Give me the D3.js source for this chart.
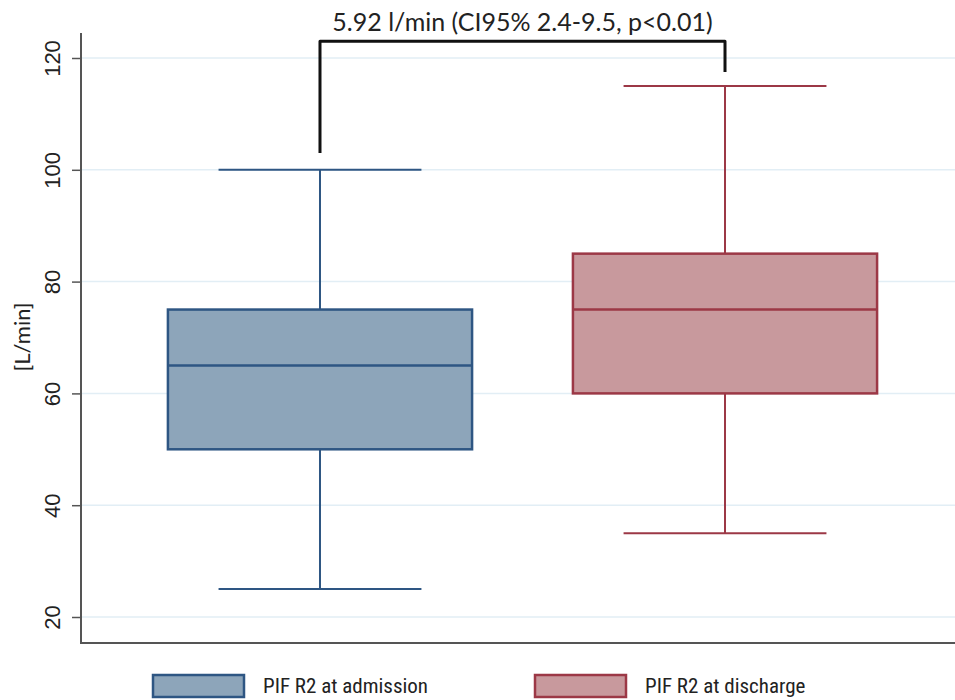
<!DOCTYPE html>
<html>
<head>
  <script src="https://d3js.org/d3.v7.min.js"></script>
  <style>
    body { margin: 0; background: #fff; }
  </style>
</head>
<body>
  <div id="chart"></div>
  <script>

  // data
  var groups = ["PIF R2 at admission", "PIF R2 at discharge"];
  var whiskerLow = [25, 35];
  var q1 = [50, 60];
  var medians = [65, 75];
  var q3 = [75, 85];
  var whiskerHigh = [100, 115];
  var yTicks = [20, 40, 60, 80, 100, 120];
  var bracketEnds = [103, 117.5];   // bottoms of the bracket legs
  var bracketTop = 123;
  var annotation = "5.92 l/min (CI95% 2.4-9.5, p<0.01)";

  var fills = ["#8da5ba", "#c8999d"];
  var strokes = ["#2e5683", "#9c3846"];

  var width = 955,
      height = 700,
      margin = {top: 33, right: -9, bottom: 57, left: 81};

  var svg = d3.select("#chart").append("svg")
    .attr("width", width)
    .attr("height", height);

  var y = d3.scaleLinear()
    .domain([20, 120])
    .range([617, 58]);

  var x = d3.scaleBand()
    .domain(groups)
    .range([margin.left, width - margin.right])
    .paddingInner(0.249)
    .paddingOuter(0.2146);

  var bw = x.bandwidth();
  var capW = bw * 0.667;
  var cx = function(i) { return x(groups[i]) + bw / 2; };

  // gridlines
  svg.append("g")
    .selectAll("line")
    .data(yTicks)
    .enter()
    .append("line")
    .attr("x1", margin.left)
    .attr("x2", width)
    .attr("y1", function(d) { return y(d); })
    .attr("y2", function(d) { return y(d); })
    .attr("stroke", "#e2eef5")
    .attr("stroke-width", 1.5);

  // y axis
  var yAxis = svg.append("g")
    .attr("transform", "translate(" + margin.left + ",0)")
    .call(d3.axisLeft(y).tickValues(yTicks).tickSize(9).tickPadding(12));

  yAxis.select(".domain").remove();
  yAxis.selectAll(".tick line").attr("stroke", "#555").attr("stroke-width", 1.5);
  yAxis.selectAll(".tick text")
    .attr("fill", "#222")
    .style("font", "22px 'Liberation Sans', Arial, sans-serif")
    .attr("transform", "rotate(-90)")
    .attr("x", 0)
    .attr("y", -29)
    .attr("dy", "0.35em")
    .attr("text-anchor", "middle");

  // axis lines
  svg.append("line")
    .attr("x1", margin.left).attr("x2", margin.left)
    .attr("y1", margin.top).attr("y2", height - margin.bottom + 1)
    .attr("stroke", "#555").attr("stroke-width", 2);

  svg.append("line")
    .attr("x1", margin.left - 1).attr("x2", width)
    .attr("y1", height - margin.bottom).attr("y2", height - margin.bottom)
    .attr("stroke", "#555").attr("stroke-width", 2);

  svg.append("text")
    .attr("transform", "translate(22,337) rotate(-90)")
    .attr("text-anchor", "middle")
    .attr("dy", "0.35em")
    .style("font", "22px Lato, 'Open Sans', sans-serif")
    .attr("fill", "#222")
    .text("[L/min]");

  // boxes
  var boxes = svg.selectAll(".box")
    .data(groups)
    .enter()
    .append("g")
    .attr("class", "box");

  boxes.append("line")
    .attr("x1", function(d, i) { return cx(i); })
    .attr("x2", function(d, i) { return cx(i); })
    .attr("y1", function(d, i) { return y(whiskerLow[i]); })
    .attr("y2", function(d, i) { return y(whiskerHigh[i]); })
    .attr("stroke", function(d, i) { return strokes[i]; })
    .attr("stroke-width", 2);

  [whiskerLow, whiskerHigh].forEach(function(arr) {
    boxes.append("line")
      .attr("x1", function(d, i) { return cx(i) - capW / 2; })
      .attr("x2", function(d, i) { return cx(i) + capW / 2; })
      .attr("y1", function(d, i) { return y(arr[i]); })
      .attr("y2", function(d, i) { return y(arr[i]); })
      .attr("stroke", function(d, i) { return strokes[i]; })
      .attr("stroke-width", 2);
  });

  boxes.append("rect")
    .attr("x", function(d) { return x(d); })
    .attr("width", bw)
    .attr("y", function(d, i) { return y(q3[i]); })
    .attr("height", function(d, i) { return y(q1[i]) - y(q3[i]); })
    .attr("fill", function(d, i) { return fills[i]; })
    .attr("stroke", function(d, i) { return strokes[i]; })
    .attr("stroke-width", 2.5);

  boxes.append("line")
    .attr("x1", function(d) { return x(d); })
    .attr("x2", function(d) { return x(d) + bw; })
    .attr("y1", function(d, i) { return y(medians[i]); })
    .attr("y2", function(d, i) { return y(medians[i]); })
    .attr("stroke", function(d, i) { return strokes[i]; })
    .attr("stroke-width", 2.5);

  // significance bracket
  var bracket = d3.line();
  svg.append("path")
    .attr("d", bracket([
      [cx(0), y(bracketEnds[0])],
      [cx(0), y(bracketTop)],
      [cx(1), y(bracketTop)],
      [cx(1), y(bracketEnds[1])]
    ]))
    .attr("fill", "none")
    .attr("stroke", "#111")
    .attr("stroke-width", 3)
    .attr("stroke-linejoin", "round");

  svg.append("text")
    .attr("x", (cx(0) + cx(1)) / 2)
    .attr("y", y(bracketTop) - 10)
    .attr("text-anchor", "middle")
    .style("font", "25px Lato, 'Open Sans', sans-serif")
    .attr("fill", "#222")
    .text(annotation);

  // legend
  var legendX = [153, 535];
  var legend = svg.selectAll(".legend")
    .data(groups)
    .enter()
    .append("g")
    .attr("class", "legend")
    .attr("transform", function(d, i) { return "translate(" + legendX[i] + ",675)"; });

  legend.append("rect")
    .attr("width", 91)
    .attr("height", 22)
    .attr("fill", function(d, i) { return fills[i]; })
    .attr("stroke", function(d, i) { return strokes[i]; })
    .attr("stroke-width", 2.5);

  legend.append("text")
    .attr("x", 110)
    .attr("y", 11)
    .attr("dy", "0.35em")
    .style("font", "21px 'Liberation Sans Narrow', 'Roboto Condensed', 'Liberation Sans', sans-serif")
    .attr("fill", "#222")
    .text(function(d) { return d; });

  </script>
</body>
</html>
